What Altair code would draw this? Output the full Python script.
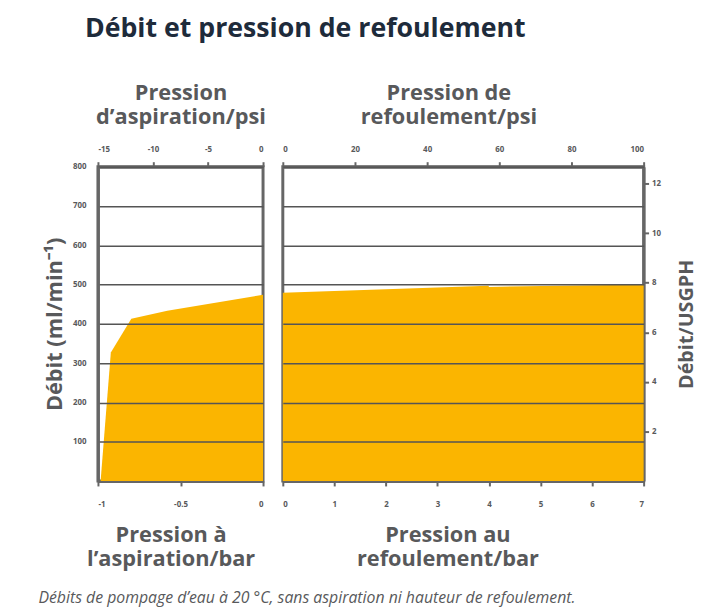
import altair as alt
import pandas as pd

# ---- data ----
suction_bar = [-0.984, -0.922, -0.798, -0.58, 0.0]
suction_flow = [0, 327, 413, 433, 474]

discharge_bar = [0.0, 3.99, 4.0, 7.0]
discharge_flow = [479, 497, 494, 500]

psi_left_ticks = [-15, -10, -5, 0]
psi_right_ticks = [0, 20, 40, 60, 80, 100]
bar_left_ticks = [-1, -0.5, 0]
bar_right_ticks = [0, 1, 2, 3, 4, 5, 6, 7]
flow_ticks = [100, 200, 300, 400, 500, 600, 700, 800]
usgph_ticks = [2, 4, 6, 8, 10, 12]
usgph_max = 12.68

W_L, W_R, H = 167, 365, 318
ORANGE = "#FBB500"
GRAY = "#58595B"
LINE = "#666666"
FONT = "Open Sans"

minus_expr = "(datum.value < 0 ? '-' : '') + format(abs(datum.value), '~g')"

left_df = pd.DataFrame({"bar": suction_bar, "flow": suction_flow})
right_df = pd.DataFrame({"bar": discharge_bar, "flow": discharge_flow})

left_area = alt.Chart(left_df).mark_area(color=ORANGE, opacity=1).encode(
    x=alt.X("bar:Q", scale=alt.Scale(domain=[-1, 0], nice=False, zero=False),
            axis=alt.Axis(orient="bottom", values=bar_left_ticks, labelExpr=minus_expr,
                          title=["Pression à", "l’aspiration/bar"], titleX=W_L / 2 - 10,
                          labelPadding=15, titlePadding=16)),
    y=alt.Y("flow:Q", scale=alt.Scale(domain=[0, 800], nice=False),
            axis=alt.Axis(orient="left", values=flow_ticks, grid=True, gridColor="#555555",
                          gridWidth=1.5, ticks=False, labelPadding=12,
                          title="Débit (ml/min⁻¹)", titlePadding=6, zindex=1)),
)
left_top = alt.Chart(pd.DataFrame({"psi": psi_left_ticks})).mark_point(opacity=0).encode(
    x=alt.X("psi:Q", scale=alt.Scale(domain=[-15, 0], nice=False, zero=False),
            axis=alt.Axis(orient="top", values=psi_left_ticks, labelExpr=minus_expr,
                          title=["Pression", "d’aspiration/psi"], titleX=W_L / 2,
                          labelPadding=8, titlePadding=18)),
)
left = alt.layer(left_area, left_top).resolve_scale(x="independent").properties(
    width=W_L, height=H)

right_area = alt.Chart(right_df).mark_area(color=ORANGE, opacity=1).encode(
    x=alt.X("bar:Q", scale=alt.Scale(domain=[0, 7], nice=False, zero=False),
            axis=alt.Axis(orient="bottom", values=bar_right_ticks,
                          title=["Pression au", "refoulement/bar"], titleX=W_R / 2 - 16,
                          labelPadding=15, titlePadding=16)),
    y=alt.Y("flow:Q", scale=alt.Scale(domain=[0, 800], nice=False),
            axis=alt.Axis(orient="left", values=flow_ticks, grid=True, gridColor="#555555",
                          gridWidth=1.5, ticks=False, labels=False, domain=False,
                          title=None, zindex=1, minExtent=0, maxExtent=0, offset=0)),
)
right_top = alt.Chart(pd.DataFrame({"psi": psi_right_ticks})).mark_point(opacity=0).encode(
    x=alt.X("psi:Q", scale=alt.Scale(domain=[0, 100], nice=False, zero=False),
            axis=alt.Axis(orient="top", values=psi_right_ticks,
                          title=["Pression de", "refoulement/psi"], titleX=W_R / 2 - 15,
                          labelPadding=8, titlePadding=18)),
)
right_side = alt.Chart(pd.DataFrame({"usgph": usgph_ticks})).mark_point(opacity=0).encode(
    y=alt.Y("usgph:Q", scale=alt.Scale(domain=[0, usgph_max], nice=False, zero=False),
            axis=alt.Axis(orient="right", values=usgph_ticks, labelPadding=3,
                          title="Débit/USGPH", titleAngle=270, titleBaseline="top",
                          titleFontSize=20, titlePadding=16)),
)
right = alt.layer(right_area, right_top, right_side).resolve_scale(
    x="independent", y="independent").properties(width=W_R, height=H)

top = alt.hconcat(left, right, spacing=20, bounds="flush").properties(
    title=alt.TitleParams("Débit et pression de refoulement", anchor="start", dx=43,
                          offset=38, fontSize=27, font=FONT, fontWeight="bold",
                          color="#1E2B3B"))

chart = alt.vconcat(top).properties(
    title=alt.TitleParams("Débits de pompage d’eau à 20 °C, sans aspiration ni hauteur de refoulement.",
                          orient="bottom", anchor="start", dx=-4, offset=20, fontSize=16,
                          font=FONT, fontStyle="italic", fontWeight="normal", color=GRAY),
    padding={"left": 30, "top": 3, "right": 0, "bottom": 0},
).configure_view(stroke=LINE, strokeWidth=3).configure_axis(
    labelFont=FONT, labelFontWeight="bold", labelFontSize=8, labelColor=GRAY,
    titleFont=FONT, titleFontWeight="bold", titleFontSize=22, titleColor=GRAY,
    titleLineHeight=24, domainColor=LINE, domainWidth=3, tickColor=LINE, tickWidth=2,
    tickSize=5, grid=False,
)

chart.save("out.html", embed_options={"renderer": "svg", "actions": False})
